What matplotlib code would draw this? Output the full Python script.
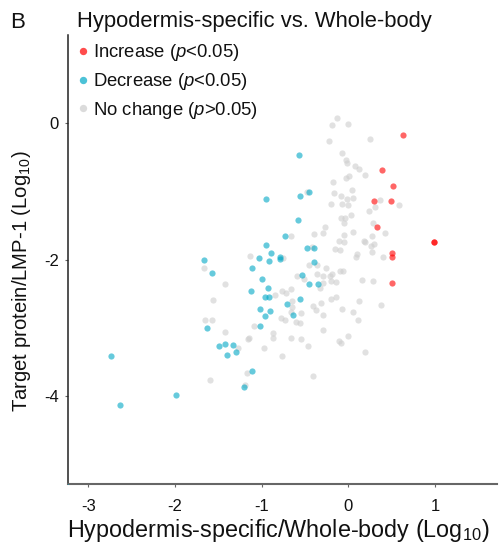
import matplotlib
matplotlib.use("Agg")
import matplotlib.pyplot as plt
from matplotlib.lines import Line2D

plt.rcParams["font.family"] = ["Liberation Sans", "DejaVu Sans"]
plt.rcParams["mathtext.fontset"] = "custom"
plt.rcParams["mathtext.rm"] = "Liberation Sans"
plt.rcParams["mathtext.it"] = "Liberation Sans:italic"

# ---- data (log10 ratios) ----
inc_x = [0.634, 0.385, 0.512, 0.300, 0.489, 0.331, 0.992, 0.992, 0.504, 0.501, 0.501]
inc_y = [-0.167, -0.680, -0.919, -1.144, -1.144, -1.521, -1.740, -1.740, -1.897, -1.965, -2.342]

dec_x = [-0.572, -0.459, -0.557, -0.946, -0.584, -0.727, -0.946, -0.482, -0.396, -0.889,
         -0.794, -0.788, -0.911, -1.032, -0.396, -0.536, -1.664, -1.574, -1.111, -0.998,
         -0.459, -0.355, -0.928, -1.122, -0.961, -0.911, -0.563, -0.709, -0.636, -1.024,
         -0.907, -0.961, -1.018, -1.626, -1.488, -1.420, -1.326, -1.403, -1.295, -1.107,
         -1.200, -2.734, -2.630, -1.987, -3.256]
dec_y = [-0.469, -1.010, -1.073, -1.114, -1.418, -1.652, -1.789, -1.833, -1.833, -1.897,
         -1.956, -1.990, -2.019, -1.979, -2.029, -2.220, -2.009, -2.199, -2.117, -2.283,
         -2.361, -2.361, -2.411, -2.466, -2.544, -2.551, -2.584, -2.650, -2.806, -2.727,
         -2.748, -2.833, -2.968, -3.006, -3.270, -3.243, -3.248, -3.400, -3.349, -3.628,
         -3.871, -3.416, -4.135, -3.984, -5.318]

nc_x = [-0.127, -0.188, 0.000, -0.225, 0.247, -0.073, -0.023, -0.013, 0.074, 0.127,
        0.193, 0.002, -0.023, -0.174, 0.045, -0.161, -0.082, -0.017, 0.058, -0.200,
        -0.076, 0.000, 0.371, 0.311, 0.587, 0.233, 0.031, -0.081, -0.036, -0.046,
        0.281, -0.269, -0.294, -0.392, -0.659, 0.057, 0.427, -0.053, 0.276, -0.104,
        -0.050, 0.178, 0.190, 0.299, 0.264, -0.421, -0.151, -0.093, 0.273, 0.098,
        0.091, 0.403, -0.753, -0.450, -0.363, -0.257, -0.101, -0.058, -0.595, -0.517,
        -0.367, -0.288, -0.211, -0.188, -0.205, -0.142, 0.160, 0.285, -0.290, -0.332,
        -0.667, -0.770, -0.721, -0.843, -0.203, -0.144, 0.120, -0.649, -0.649, -0.404,
        -0.378, -0.311, 0.377, -0.073, 0.051, -0.292, -0.543, -0.661, -0.782, -0.727,
        -0.609, -0.555, 0.108, -0.865, -0.865, -0.661, -0.548, -0.298, -0.969, -0.767,
        -0.465, -0.107, -0.088, -0.001, 0.189, -0.413, -1.136, -1.664, -1.428, -1.558,
        -1.649, -1.574, -1.424, -1.085, -1.145, -1.157, -1.269, -1.601, -1.165, -1.188,
        -0.482]
nc_y = [0.073, -0.032, -0.006, -0.264, -0.235, -0.435, -0.543, -0.585, -0.626, -0.670,
        -0.758, -0.768, -0.809, -0.865, -0.974, -1.025, -1.069, -1.106, -1.095, -1.188,
        -1.183, -1.194, -1.132, -1.230, -1.198, -1.293, -1.340, -1.389, -1.396, -1.465,
        -1.465, -1.516, -1.608, -1.628, -1.650, -1.594, -1.611, -1.642, -1.648, -1.726,
        -1.738, -1.730, -1.748, -1.774, -1.795, -1.809, -1.848, -1.862, -1.887, -1.919,
        -1.960, -1.956, -1.979, -2.085, -2.075, -2.117, -2.170, -2.170, -2.236, -2.280,
        -2.214, -2.242, -2.242, -2.213, -2.320, -2.324, -2.301, -2.315, -2.345, -2.415,
        -2.437, -2.466, -2.493, -2.513, -2.581, -2.551, -2.610, -2.601, -2.689, -2.674,
        -2.738, -2.630, -2.660, -2.723, -2.767, -2.818, -2.784, -2.771, -2.859, -2.881,
        -2.918, -2.933, -2.889, -3.075, -3.148, -3.148, -3.160, -3.026, -3.292, -3.408,
        -3.261, -3.192, -3.224, -3.122, -3.358, -3.710, -1.953, -2.122, -2.356, -2.598,
        -2.889, -2.884, -3.056, -2.968, -3.148, -3.170, -3.299, -3.760, -3.664, -3.842,
        -1.010]

RED, CYAN, GREY = "#FF0000", "#00A8C6", "#CDCDCD"
ALPHA = 0.6
W, H = 501, 552


def fx(px):
    return px / W


def fy(py):
    return 1 - py / H


fig = plt.figure(figsize=(W / 100, H / 100), dpi=100)
ax = fig.add_axes([fx(68), fy(484), fx(497) - fx(68), fy(35) - fy(484)])

ax.scatter(nc_x, nc_y, s=20, color=GREY, alpha=ALPHA, linewidths=0, zorder=2)
ax.scatter(dec_x, dec_y, s=20, color=CYAN, alpha=ALPHA, linewidths=0, zorder=3)
ax.scatter(inc_x, inc_y, s=20, color=RED, alpha=ALPHA, linewidths=0, zorder=3)

ax.set_xlim(-3.234, 1.715)
ax.set_ylim(-5.29, 1.295)
ax.set_xticks([-3, -2, -1, 0, 1])
ax.set_yticks([0, -2, -4])
ax.set_xticklabels(["-3", "-2", "-1", "0", "1"])
ax.set_yticklabels(["0", "-2", "-4"])
for s in ["top", "right"]:
    ax.spines[s].set_visible(False)
ax.spines["left"].set_color("#222222")
ax.spines["left"].set_linewidth(1.1)
ax.spines["bottom"].set_color("#666666")
ax.spines["bottom"].set_linewidth(1.5)
ax.tick_params(axis="both", direction="out", length=2.5, width=0.8, color="#666666",
               labelsize=12, labelcolor="#111111")
ax.tick_params(axis="x", pad=8)
ax.tick_params(axis="y", pad=4)

# axis labels
fig.text(fx(66.7), fy(537), "Hypodermis-specific/Whole-body (Log$_{10}$)",
         fontsize=16.8, ha="left", va="baseline", color="#111111")
fig.text(fx(22), fy(281), "Target protein/LMP-1 (Log$_{10}$)",
         fontsize=14.6, rotation=90, ha="center", va="center", color="#111111")

# panel letter + title
fig.text(fx(10), fy(28), "B", fontsize=16, ha="left", va="baseline", color="#111111")
fig.text(fx(77), fy(27), "Hypodermis-specific vs. Whole-body", fontsize=15.8,
         ha="left", va="baseline", color="#111111")

# legend
legend_rows = [
    (RED, "Increase ($\\mathit{p}$<$\\mathit{0.05}$)", 50.7, 57.3),
    (CYAN, "Decrease ($\\mathit{p}$<$\\mathit{0.05}$)", 80.0, 86.0),
    (GREY, "No change ($\\mathit{p}$>$\\mathit{0.05}$)", 108.3, 115.0),
]
for col, lab, my, by in legend_rows:
    fig.add_artist(Line2D([fx(82.7)], [fy(my)], marker="o", markersize=5.3, color=col,
                          alpha=ALPHA + 0.1, markeredgewidth=0, linestyle="none",
                          transform=fig.transFigure))
    fig.text(fx(93), fy(by), lab, fontsize=13.3, ha="left", va="baseline", color="#111111")

fig.savefig("out.png", dpi=100)
